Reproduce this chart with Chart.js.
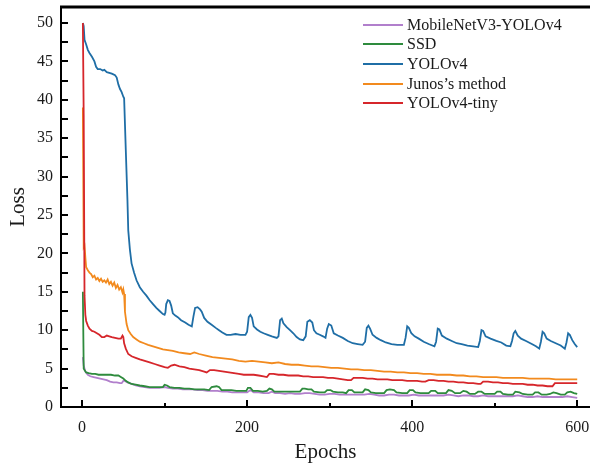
<!DOCTYPE html>
<html>
<head>
<meta charset="utf-8">
<script src="https://cdn.jsdelivr.net/npm/chart.js@4.4.1/dist/chart.umd.min.js"></script>
<style>
  html, body { margin: 0; padding: 0; background: #fff; }
  #wrap { position: relative; width: 590px; height: 463px; }
  #legend {
    position: absolute; left: 363px; top: 15px;
    font-family: "Liberation Serif", "DejaVu Serif", serif;
    font-size: 16px; color: #1a1a1a;
  }
  .row { height: 19.6px; display: flex; align-items: center; white-space: nowrap; }
  .sw { width: 40px; height: 2px; margin-right: 4px; }
</style>
</head>
<body>
<div id="wrap">
  <canvas id="loss-chart" width="590" height="463"></canvas>
  <div id="legend"></div>
</div>
<script>
// x tick labels / y tick labels
const xTicks = [0, 200, 400, 600];
const xMinorTicks = [100, 300, 500];
const yTicks = [0, 5, 10, 15, 20, 25, 30, 35, 40, 45, 50];

// MobileNetV3-YOLOv4
const mobEpochs = [1, 2, 4, 7, 10, 14, 18, 22, 26, 30, 34, 38, 42, 46, 48, 50, 52, 55, 60, 65, 70, 76, 82, 88, 94, 100, 104, 110, 116, 122, 128, 134, 140, 146, 152, 158, 164, 170, 176, 182, 188, 194, 200, 204, 208, 214, 220, 226, 230, 234, 240, 246, 252, 258, 264, 270, 276, 282, 288, 294, 300, 306, 312, 318, 324, 330, 336, 342, 348, 354, 360, 366, 372, 378, 384, 390, 396, 402, 408, 414, 420, 426, 432, 438, 444, 450, 456, 462, 468, 474, 480, 486, 492, 498, 504, 510, 516, 522, 528, 534, 540, 546, 552, 558, 564, 570, 576, 582, 588, 594, 600];
const mobLoss = [6.5, 5.4, 4.6, 4.2, 4.0, 3.9, 3.8, 3.7, 3.6, 3.5, 3.3, 3.2, 3.2, 3.1, 3.1, 3.4, 3.4, 3.2, 3.0, 2.8, 2.7, 2.6, 2.5, 2.5, 2.5, 2.6, 2.5, 2.4, 2.4, 2.3, 2.3, 2.3, 2.2, 2.2, 2.1, 2.1, 2.1, 2.0, 2.0, 1.9, 1.9, 1.9, 1.9, 2.2, 1.9, 1.9, 1.8, 1.8, 2.0, 1.8, 1.8, 1.7, 1.8, 1.7, 1.7, 1.8, 1.8, 1.7, 1.6, 1.6, 1.7, 1.7, 1.6, 1.6, 1.6, 1.6, 1.6, 1.6, 1.7, 1.6, 1.5, 1.5, 1.6, 1.6, 1.5, 1.5, 1.5, 1.6, 1.5, 1.5, 1.5, 1.5, 1.5, 1.5, 1.6, 1.5, 1.4, 1.5, 1.5, 1.4, 1.4, 1.5, 1.4, 1.4, 1.4, 1.4, 1.4, 1.4, 1.5, 1.4, 1.3, 1.3, 1.4, 1.3, 1.3, 1.3, 1.3, 1.3, 1.4, 1.3, 1.2];

// SSD
const ssdEpochs = [1, 2, 3, 5, 8, 12, 16, 20, 25, 30, 35, 40, 44, 47, 50, 53, 56, 60, 65, 70, 76, 82, 88, 94, 98, 100, 103, 106, 112, 118, 124, 130, 136, 142, 148, 154, 157, 163, 166, 169, 175, 181, 187, 193, 199, 201, 204, 207, 213, 219, 224, 227, 230, 233, 240, 246, 252, 258, 264, 267, 270, 274, 278, 281, 288, 294, 297, 301, 304, 310, 316, 320, 323, 327, 330, 336, 340, 343, 347, 350, 356, 362, 366, 369, 373, 378, 381, 388, 394, 397, 401, 404, 410, 416, 420, 423, 428, 431, 437, 441, 444, 448, 452, 458, 462, 466, 470, 476, 480, 484, 488, 494, 500, 503, 507, 510, 516, 522, 525, 530, 534, 540, 546, 549, 553, 557, 563, 567, 571, 575, 580, 585, 588, 592, 596, 600];
const ssdLoss = [15.0, 5.0, 4.8, 4.5, 4.4, 4.3, 4.3, 4.2, 4.2, 4.2, 4.2, 4.1, 4.1, 3.9, 3.7, 3.4, 3.2, 3.0, 2.9, 2.8, 2.7, 2.6, 2.6, 2.6, 2.6, 2.9, 2.8, 2.6, 2.5, 2.5, 2.4, 2.4, 2.3, 2.3, 2.3, 2.2, 2.6, 2.7, 2.6, 2.2, 2.2, 2.2, 2.1, 2.1, 2.1, 2.5, 2.5, 2.1, 2.1, 2.0, 2.1, 2.4, 2.3, 2.0, 2.0, 2.0, 2.0, 2.0, 2.0, 2.4, 2.4, 2.3, 2.3, 2.0, 1.9, 1.9, 2.2, 2.2, 2.0, 1.9, 1.9, 1.8, 2.2, 2.2, 1.9, 1.9, 1.9, 2.3, 2.2, 1.9, 1.8, 1.8, 1.8, 2.2, 2.3, 2.2, 1.9, 1.8, 1.8, 2.2, 2.2, 1.9, 1.8, 1.8, 1.8, 2.1, 2.1, 1.8, 1.8, 1.8, 2.2, 2.1, 1.8, 1.8, 2.1, 2.0, 1.7, 1.7, 2.0, 2.0, 1.7, 1.7, 1.7, 2.0, 2.0, 1.7, 1.6, 1.6, 2.0, 1.9, 1.7, 1.6, 1.6, 1.9, 1.9, 1.6, 1.6, 1.7, 1.9, 1.8, 1.6, 1.6, 1.9, 2.0, 1.8, 1.7];

// YOLOv4
const yoloEpochs = [1, 2, 3, 5, 7, 9, 12, 15, 17, 19, 22, 25, 27, 30, 33, 36, 40, 42, 44, 46, 48, 50, 51, 53, 55, 56, 58, 60, 63, 66, 70, 74, 78, 82, 86, 90, 94, 98, 100, 101, 102, 104, 106, 108, 110, 113, 116, 120, 125, 129, 133, 135, 137, 140, 143, 145, 148, 152, 157, 162, 166, 170, 175, 180, 186, 192, 198, 200, 202, 204, 206, 208, 212, 216, 220, 225, 230, 236, 238, 240, 242, 244, 248, 252, 256, 260, 264, 268, 271, 273, 276, 279, 281, 284, 288, 292, 295, 297, 299, 302, 305, 310, 316, 322, 328, 334, 340, 343, 345, 347, 349, 352, 357, 362, 368, 375, 382, 390, 392, 394, 396, 399, 403, 408, 414, 420, 427, 429, 431, 433, 436, 442, 448, 454, 460, 467, 474, 480, 482, 484, 486, 489, 495, 502, 508, 514, 519, 521, 523, 525, 528, 532, 538, 545, 550, 554, 556, 558, 560, 563, 568, 574, 580, 585, 587, 589, 591, 594, 597, 600];
const yoloLoss = [50.0, 49.6, 47.8, 47.2, 46.5, 46.1, 45.6, 45.0, 44.3, 44.0, 44.0, 43.8, 43.9, 43.6, 43.5, 43.4, 43.2, 42.9, 42.0, 41.4, 41.0, 40.4, 40.2, 33.5, 27.0, 23.0, 20.5, 18.7, 17.5, 16.5, 15.6, 15.0, 14.5, 13.9, 13.4, 12.9, 12.5, 12.1, 12.0, 12.3, 13.4, 13.9, 13.8, 13.2, 12.2, 11.9, 11.7, 11.3, 11.0, 10.7, 10.5, 11.8, 12.9, 13.0, 12.7, 12.4, 11.6, 11.1, 10.7, 10.3, 10.0, 9.7, 9.4, 9.4, 9.5, 9.4, 9.4, 9.8, 11.7, 12.0, 11.6, 10.5, 10.1, 9.8, 9.6, 9.4, 9.2, 9.0, 9.2, 11.3, 11.5, 10.9, 10.4, 10.0, 9.6, 9.1, 8.8, 8.7, 9.2, 11.1, 11.3, 11.0, 10.0, 9.6, 9.4, 9.2, 9.0, 10.2, 10.8, 10.6, 9.6, 9.3, 9.0, 8.6, 8.3, 8.2, 8.1, 8.5, 10.3, 10.6, 10.2, 9.4, 9.0, 8.7, 8.4, 8.2, 8.1, 8.1, 9.0, 10.5, 10.3, 9.6, 9.2, 8.9, 8.5, 8.2, 7.9, 8.5, 10.2, 10.1, 9.3, 8.9, 8.6, 8.3, 8.2, 8.0, 7.9, 7.8, 8.6, 10.0, 9.9, 9.2, 8.9, 8.6, 8.4, 8.0, 7.9, 8.6, 9.6, 9.9, 9.3, 8.9, 8.6, 8.2, 7.9, 7.6, 8.5, 9.8, 9.6, 8.9, 8.6, 8.3, 8.0, 7.6, 8.4, 9.6, 9.4, 8.7, 8.2, 7.8];

// Junos's method
const junosEpochs = [1, 2, 3, 4, 5, 7, 9, 11, 13, 15, 17, 19, 21, 23, 25, 27, 29, 31, 33, 35, 37, 39, 41, 43, 45, 47, 49, 50, 51, 52, 54, 56, 59, 62, 66, 70, 75, 80, 86, 92, 98, 104, 110, 117, 124, 131, 136, 142, 150, 158, 166, 174, 182, 190, 198, 206, 214, 222, 230, 238, 246, 254, 262, 270, 278, 286, 294, 302, 310, 318, 326, 334, 342, 350, 358, 366, 374, 382, 390, 398, 406, 414, 422, 430, 438, 446, 454, 462, 470, 478, 486, 494, 502, 510, 518, 526, 534, 542, 550, 558, 566, 574, 582, 590, 600];
const junosLoss = [39.0, 20.8, 21.0, 19.5, 18.2, 17.8, 17.5, 17.3, 16.9, 17.1, 16.6, 16.8, 16.4, 16.7, 16.3, 16.5, 16.2, 16.6, 16.0, 16.3, 15.8, 16.2, 15.5, 15.9, 15.3, 15.6, 14.9, 15.3, 14.7, 12.4, 10.8, 10.0, 9.5, 9.1, 8.8, 8.5, 8.3, 8.1, 7.9, 7.7, 7.5, 7.4, 7.3, 7.1, 7.0, 6.9, 7.1, 6.9, 6.7, 6.5, 6.4, 6.3, 6.2, 6.0, 5.9, 6.0, 5.9, 5.8, 5.7, 5.8, 5.6, 5.5, 5.5, 5.4, 5.3, 5.3, 5.2, 5.1, 5.1, 5.0, 4.9, 4.9, 4.8, 4.8, 4.7, 4.6, 4.6, 4.5, 4.5, 4.4, 4.4, 4.3, 4.3, 4.2, 4.2, 4.2, 4.1, 4.1, 4.0, 4.0, 3.9, 3.9, 3.9, 3.8, 3.8, 3.8, 3.8, 3.7, 3.7, 3.7, 3.7, 3.6, 3.6, 3.6, 3.6];

// YOLOv4-tiny
const tinyEpochs = [1, 2, 3, 4, 5, 7, 9, 12, 15, 18, 21, 24, 27, 30, 33, 36, 40, 44, 47, 49, 50, 51, 53, 56, 60, 65, 70, 76, 82, 88, 94, 100, 104, 108, 112, 118, 124, 130, 136, 142, 148, 151, 155, 160, 166, 172, 178, 184, 190, 196, 202, 208, 214, 220, 224, 227, 232, 238, 244, 250, 256, 262, 268, 274, 280, 286, 292, 298, 304, 310, 316, 322, 326, 329, 334, 340, 346, 352, 358, 364, 370, 376, 382, 388, 394, 400, 406, 412, 416, 420, 426, 432, 438, 444, 450, 456, 462, 468, 474, 480, 483, 486, 492, 498, 504, 510, 516, 522, 528, 534, 540, 546, 552, 558, 564, 570, 573, 578, 584, 590, 596, 600];
const tinyLoss = [50.0, 38.0, 14.5, 12.0, 11.2, 10.6, 10.2, 9.9, 9.8, 9.6, 9.4, 9.1, 9.1, 9.3, 9.2, 9.1, 9.0, 8.9, 8.9, 9.3, 9.1, 8.3, 7.6, 6.9, 6.6, 6.4, 6.2, 6.0, 5.8, 5.6, 5.4, 5.2, 5.1, 5.4, 5.5, 5.3, 5.2, 5.0, 4.9, 4.8, 4.6, 4.5, 4.8, 4.8, 4.7, 4.6, 4.5, 4.4, 4.3, 4.2, 4.2, 4.2, 4.1, 4.0, 3.9, 4.3, 4.3, 4.2, 4.2, 4.1, 4.1, 4.1, 4.0, 4.0, 3.9, 3.9, 3.9, 3.8, 3.8, 3.7, 3.6, 3.5, 3.5, 3.8, 3.8, 3.8, 3.7, 3.7, 3.6, 3.6, 3.6, 3.5, 3.5, 3.5, 3.4, 3.4, 3.4, 3.3, 3.3, 3.5, 3.5, 3.4, 3.4, 3.3, 3.3, 3.2, 3.2, 3.1, 3.1, 3.0, 3.0, 3.3, 3.3, 3.2, 3.2, 3.1, 3.1, 3.0, 3.0, 3.0, 2.9, 2.9, 2.8, 2.8, 2.7, 2.7, 3.1, 3.1, 3.1, 3.1, 3.1, 3.1];

const FONT = '"Liberation Serif", "DejaVu Serif", serif';

function pts(xs, ys) {
  return xs.map((x, i) => ({ x: x, y: ys[i] }));
}

const series = [
  { label: "MobileNetV3-YOLOv4", data: pts(mobEpochs, mobLoss), color: "#b17fcc", order: 4 },
  { label: "SSD", data: pts(ssdEpochs, ssdLoss), color: "#2e8b3d", order: 3 },
  { label: "YOLOv4", data: pts(yoloEpochs, yoloLoss), color: "#1f6ea6", order: 5 },
  { label: "Junos\u2019s method", data: pts(junosEpochs, junosLoss), color: "#f28a1e", order: 2 },
  { label: "YOLOv4-tiny", data: pts(tinyEpochs, tinyLoss), color: "#d6262b", order: 1 },
];

// legend box inside the plot (top right)
const legendBox = document.getElementById("legend");
series.forEach((s) => {
  const row = document.createElement("div");
  row.className = "row";
  row.innerHTML = `<span class="sw" style="background:${s.color}"></span><span>${s.label}</span>`;
  legendBox.appendChild(row);
});

// inward tick marks + top frame line
const frame = {
  id: "frame",
  afterDraw(chart) {
    const { ctx, chartArea } = chart;
    const xs = chart.scales.x;
    const ys = chart.scales.y;
    ctx.save();
    ctx.strokeStyle = "#000";
    ctx.lineWidth = 3;
    ctx.beginPath();
    ctx.moveTo(chartArea.left - 1, chartArea.top);
    ctx.lineTo(chartArea.right, chartArea.top);
    ctx.stroke();

    ctx.lineWidth = 2;
    ctx.beginPath();
    for (let v = 0; v <= 50; v += 2.5) {
      const py = Math.round(ys.getPixelForValue(v));
      ctx.moveTo(chartArea.left, py);
      ctx.lineTo(chartArea.left + 7, py);
    }
    xTicks.forEach((v) => {
      const px = Math.round(xs.getPixelForValue(v));
      ctx.moveTo(px, chartArea.bottom);
      ctx.lineTo(px, chartArea.bottom - 7);
    });
    xMinorTicks.forEach((v) => {
      const px = Math.round(xs.getPixelForValue(v));
      ctx.moveTo(px, chartArea.bottom);
      ctx.lineTo(px, chartArea.bottom - 4);
    });
    ctx.stroke();
    ctx.restore();
  },
};

new Chart(document.getElementById("loss-chart"), {
  type: "line",
  data: {
    datasets: series.map((s) => ({
      label: s.label,
      data: s.data,
      borderColor: s.color,
      backgroundColor: s.color,
      borderWidth: 1.8,
      pointRadius: 0,
      tension: 0,
      fill: false,
      order: s.order,
    })),
  },
  options: {
    animation: false,
    responsive: false,
    devicePixelRatio: 1,
    layout: { padding: { top: 7, right: 0, left: 0, bottom: 0 } },
    plugins: { legend: { display: false }, tooltip: { enabled: false } },
    scales: {
      x: {
        type: "linear",
        min: -25.5,
        max: 615.5,
        afterFit: (s) => { s.height = 56; s.paddingLeft = 0; s.paddingRight = 0; },
        afterBuildTicks: (s) => { s.ticks = xTicks.map((v) => ({ value: v })); },
        grid: { display: true, drawOnChartArea: false, drawTicks: false },
        border: { display: true, color: "#000", width: 2 },
        ticks: {
          padding: 11,
          color: "#1a1a1a",
          font: { family: FONT, size: 16 },
          callback: (v) => String(v),
          maxRotation: 0,
        },
        title: {
          display: true,
          text: "Epochs",
          color: "#1a1a1a",
          font: { family: FONT, size: 21, lineHeight: 1 },
          padding: { top: 0, bottom: 0 },
        },
      },
      y: {
        min: 0,
        max: 52.08,
        afterFit: (s) => { s.width = 61; s.paddingTop = 0; s.paddingBottom = 0; },
        afterBuildTicks: (s) => { s.ticks = yTicks.map((v) => ({ value: v })); },
        grid: { display: true, drawOnChartArea: false, drawTicks: false },
        border: { display: true, color: "#000", width: 2 },
        ticks: {
          padding: 8,
          color: "#1a1a1a",
          font: { family: FONT, size: 16 },
          callback: (v) => String(v),
        },
        title: {
          display: true,
          text: "Loss",
          color: "#1a1a1a",
          font: { family: FONT, size: 21, lineHeight: 1 },
          padding: { top: 7.5, bottom: 0 },
        },
      },
    },
  },
  plugins: [frame],
});
</script>
</body>
</html>
